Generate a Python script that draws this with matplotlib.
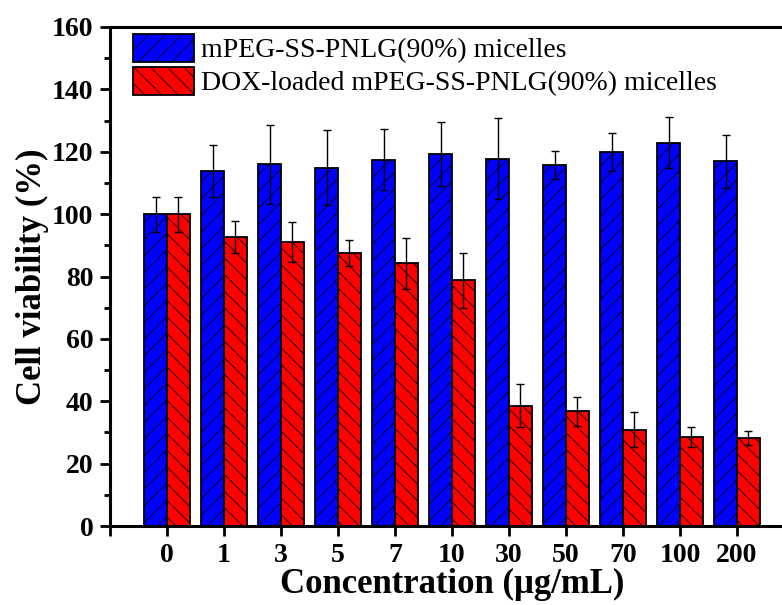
import numpy as np
import matplotlib
matplotlib.use("Agg")
import matplotlib.pyplot as plt

# concentrations (ug/mL) and viability values
conc_labels = ["0", "1", "3", "5", "7", "10", "30", "50", "70", "100", "200"]
blank_mean = [100.0, 113.8, 116.0, 114.9, 117.4, 119.2, 117.7, 115.7, 120.0, 122.9, 116.9]
blank_err = [5.6, 8.3, 12.7, 12.0, 9.8, 10.2, 13.0, 4.4, 6.1, 8.1, 8.4]
dox_mean = [100.0, 92.7, 91.1, 87.5, 84.3, 78.8, 38.6, 36.8, 30.8, 28.4, 28.2]
dox_err = [5.6, 5.2, 6.4, 4.1, 8.2, 8.8, 7.0, 4.7, 5.6, 3.2, 2.2]

plt.rcParams['font.family'] = ['Liberation Serif', 'DejaVu Serif']
plt.rcParams['hatch.linewidth'] = 0.6

W, H = 782, 605
fig = plt.figure(figsize=(W / 100, H / 100), dpi=100)
# axes box in pixels; the right spine sits just outside the picture
left, right, top, bottom = 110, 794, 27, 526
ax = fig.add_axes([left / W, (H - bottom) / H, (right - left) / W, (bottom - top) / H])

x = np.arange(len(conc_labels))
bw = 0.4
err_kw = dict(ecolor='black', elinewidth=1.0, capsize=3, capthick=1.0)
ax.bar(x - bw / 2, blank_mean, bw, yerr=blank_err, color='#0000FF', edgecolor='black',
       linewidth=1.3, hatch='//', error_kw=err_kw, label='mPEG-SS-PNLG(90%) micelles')
ax.bar(x + bw / 2, dox_mean, bw, yerr=dox_err, color='#FF0000', edgecolor='black',
       linewidth=1.3, hatch='\\\\', error_kw=err_kw, label='DOX-loaded mPEG-SS-PNLG(90%) micelles')

ax.set_xlim(-1, 11)
ax.set_ylim(0, 160)
ax.set_xticks(x)
ax.set_xticklabels(conc_labels)
ax.set_xticks([-1], minor=True)
ax.set_yticks(np.arange(0, 161, 20))
ax.set_yticks(np.arange(10, 160, 20), minor=True)

for s in ['left', 'top', 'bottom']:
    ax.spines[s].set_linewidth(2.2)
ax.spines['right'].set_visible(False)

ax.tick_params(axis='both', which='major', direction='out', length=7, width=2,
               labelsize=20, pad=5)
ax.tick_params(axis='y', which='minor', direction='out', length=4.5, width=2)
ax.tick_params(axis='x', which='minor', direction='out', length=7, width=2)
for lab in ax.get_xticklabels() + ax.get_yticklabels():
    lab.set_fontweight('bold')

ax.set_xlabel('Concentration (μg/mL)', fontsize=25, fontweight='bold', labelpad=0)
ax.set_ylabel('Cell viability (%)', fontsize=25, fontweight='bold', labelpad=2)

ax_w = right - left
ax_h = bottom - top
ax.legend(loc='upper left', bbox_to_anchor=((133 - left) / ax_w, 1 - (34 - top) / ax_h),
          frameon=False, fontsize=20, handlelength=2.2, handleheight=1.15,
          handletextpad=0.25, labelspacing=0.15, borderpad=0, borderaxespad=0)

fig.savefig('out.png', dpi=100)
